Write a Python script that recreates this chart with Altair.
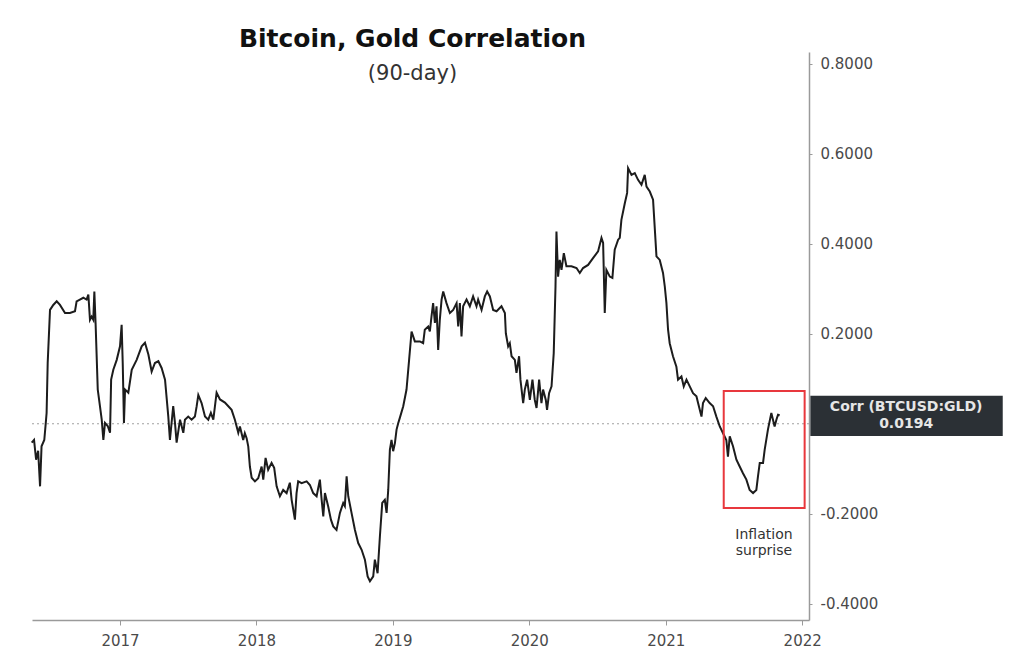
import altair as alt
import pandas as pd

# ---- series (decimal year, 90-day correlation) ----
years_a = [
    2016.353, 2016.370, 2016.385, 2016.400, 2016.414, 2016.425, 2016.445, 2016.456, 2016.462, 2016.470,
    2016.487, 2016.511, 2016.536, 2016.560, 2016.597, 2016.633, 2016.670, 2016.682, 2016.706, 2016.731,
    2016.755, 2016.768, 2016.780, 2016.792, 2016.804, 2016.812, 2016.821, 2016.837, 2016.847, 2016.866,
    2016.878, 2016.890, 2016.910, 2016.927, 2016.935, 2016.951, 2016.976, 2017.000, 2017.012, 2017.020,
    2017.029, 2017.037, 2017.061, 2017.086, 2017.122, 2017.159, 2017.183, 2017.208, 2017.232, 2017.256,
    2017.281, 2017.305, 2017.330, 2017.354, 2017.366, 2017.390, 2017.403, 2017.415, 2017.440, 2017.464,
    2017.476, 2017.500, 2017.525, 2017.549, 2017.562, 2017.574, 2017.598, 2017.623, 2017.647, 2017.666,
    2017.684, 2017.708, 2017.733, 2017.769, 2017.794, 2017.818,
]
corr_a = [
    -0.042, -0.036, -0.080, -0.060, -0.139, -0.050, -0.036, 0.002, 0.024, 0.135,
    0.253, 0.264, 0.272, 0.264, 0.246, 0.246, 0.250, 0.272, 0.276, 0.280,
    0.276, 0.287, 0.231, 0.238, 0.231, 0.294, 0.224, 0.076, 0.053, 0.009,
    -0.036, 0.002, -0.005, -0.020, 0.098, 0.120, 0.142, 0.172, 0.220, 0.135,
    0.002, 0.076, 0.069, 0.120, 0.142, 0.172, 0.180, 0.154, 0.116, 0.135,
    0.139, 0.124, 0.098, 0.016, -0.036, 0.039, 0.002, -0.042, 0.009, -0.020,
    0.009, 0.016, 0.009, 0.016, 0.039, 0.064, 0.046, 0.016, 0.009, 0.024,
    0.009, 0.069, 0.054, 0.047, 0.039, 0.031,
]
years_b = [
    2017.842, 2017.867, 2017.879, 2017.903, 2017.915, 2017.928, 2017.940, 2017.952, 2017.965, 2017.989,
    2018.013, 2018.038, 2018.050, 2018.067, 2018.086, 2018.111, 2018.130, 2018.148, 2018.172, 2018.196,
    2018.221, 2018.245, 2018.258, 2018.282, 2018.294, 2018.306, 2018.331, 2018.368, 2018.392, 2018.416,
    2018.441, 2018.465, 2018.478, 2018.490, 2018.502, 2018.526, 2018.546, 2018.563, 2018.587, 2018.612,
    2018.636, 2018.648, 2018.661, 2018.673, 2018.697, 2018.722, 2018.746, 2018.771, 2018.795, 2018.815,
    2018.832, 2018.856, 2018.868, 2018.888, 2018.905, 2018.922, 2018.941, 2018.954, 2018.966, 2018.978,
    2018.990, 2019.002, 2019.015, 2019.027, 2019.039,
]
corr_b = [
    0.009, -0.020, -0.006, -0.036, -0.021, -0.032, -0.050, -0.095, -0.120, -0.128,
    -0.121, -0.095, -0.124, -0.076, -0.102, -0.087, -0.098, -0.139, -0.161, -0.147,
    -0.154, -0.131, -0.169, -0.213, -0.154, -0.128, -0.132, -0.128, -0.136, -0.154,
    -0.161, -0.124, -0.169, -0.206, -0.154, -0.184, -0.213, -0.228, -0.236, -0.198,
    -0.176, -0.183, -0.117, -0.161, -0.198, -0.236, -0.265, -0.280, -0.302, -0.339,
    -0.350, -0.339, -0.302, -0.332, -0.250, -0.176, -0.169, -0.198, -0.147, -0.058,
    -0.036, -0.061, -0.043, -0.013, 0.001,
]
years_c = [
    2019.051, 2019.076, 2019.100, 2019.119, 2019.137, 2019.161, 2019.198, 2019.222, 2019.234, 2019.259,
    2019.271, 2019.283, 2019.295, 2019.308, 2019.320, 2019.332, 2019.344, 2019.357, 2019.369, 2019.393,
    2019.418, 2019.442, 2019.467, 2019.479, 2019.491, 2019.503, 2019.515, 2019.540, 2019.564, 2019.588,
    2019.613, 2019.625, 2019.650, 2019.674, 2019.691, 2019.711, 2019.735, 2019.760, 2019.796, 2019.821,
    2019.828, 2019.845, 2019.857, 2019.870, 2019.894, 2019.906, 2019.925, 2019.935, 2019.955, 2019.967,
    2019.984, 2020.004, 2020.023, 2020.040, 2020.053, 2020.072, 2020.089, 2020.101, 2020.121, 2020.130,
    2020.145, 2020.163, 2020.179, 2020.192, 2020.199, 2020.211, 2020.223, 2020.236, 2020.253, 2020.272,
    2020.309, 2020.346, 2020.370, 2020.394, 2020.431, 2020.467, 2020.504, 2020.529, 2020.541, 2020.553,
    2020.565, 2020.590, 2020.609, 2020.626, 2020.651, 2020.663, 2020.675, 2020.700, 2020.717, 2020.724,
    2020.749, 2020.773, 2020.797, 2020.822, 2020.846, 2020.859, 2020.883, 2020.907, 2020.932, 2020.956,
    2020.980, 2020.993, 2021.005, 2021.017, 2021.029,
]
corr_c = [
    0.013, 0.039, 0.076, 0.142, 0.205, 0.183, 0.183, 0.179, 0.209, 0.216,
    0.205, 0.238, 0.268, 0.224, 0.261, 0.164, 0.231, 0.276, 0.294, 0.268,
    0.246, 0.253, 0.268, 0.216, 0.268, 0.194, 0.261, 0.276, 0.261, 0.283,
    0.261, 0.276, 0.253, 0.283, 0.294, 0.283, 0.253, 0.250, 0.261, 0.246,
    0.201, 0.172, 0.179, 0.150, 0.142, 0.113, 0.150, 0.098, 0.046, 0.076,
    0.098, 0.053, 0.098, 0.053, 0.035, 0.098, 0.046, 0.076, 0.053, 0.031,
    0.068, 0.083, 0.157, 0.305, 0.427, 0.327, 0.364, 0.342, 0.379, 0.350,
    0.350, 0.346, 0.335, 0.346, 0.353, 0.368, 0.383, 0.413, 0.402, 0.246,
    0.342, 0.327, 0.324, 0.387, 0.409, 0.413, 0.453, 0.490, 0.513, 0.568,
    0.553, 0.557, 0.542, 0.531, 0.553, 0.527, 0.516, 0.498, 0.372, 0.364,
    0.335, 0.305, 0.268, 0.209, 0.179,
]
years_d = [
    2021.053, 2021.078, 2021.090, 2021.115, 2021.132, 2021.152, 2021.176, 2021.200, 2021.225, 2021.237,
    2021.262, 2021.273, 2021.293, 2021.322, 2021.347, 2021.371, 2021.396, 2021.420, 2021.444, 2021.456,
    2021.469, 2021.493, 2021.518, 2021.542, 2021.566, 2021.591, 2021.615, 2021.640, 2021.664, 2021.676,
    2021.689, 2021.713, 2021.725, 2021.749, 2021.774, 2021.798, 2021.811, 2021.823, 2021.835,
]
corr_d = [
    0.150, 0.127, 0.098, 0.105, 0.083, 0.098, 0.083, 0.068, 0.061, 0.046,
    0.016, 0.046, 0.057, 0.046, 0.039, 0.016, -0.006, -0.021, -0.036, -0.073,
    -0.028, -0.050, -0.080, -0.095, -0.110, -0.124, -0.147, -0.154, -0.147, -0.117,
    -0.087, -0.087, -0.058, -0.013, 0.024, -0.006, 0.009, 0.020, 0.019,
]

year_ticks = [2017, 2018, 2019, 2020, 2021, 2022]
corr_ticks = [-0.4, -0.2, 0.2, 0.4, 0.6, 0.8]

# annotation values (data units)
highlight_years = [2021.425, 2022.018]
highlight_corr = [0.073, -0.187]
note_lines = ["Inflation", "surprise"]
note_year = 2021.72
note_corr = [-0.247, -0.283]
tag_years = [2022.06, 2023.47]
tag_corr = [0.062, -0.027]
tag_lines = ["Corr (BTCUSD:GLD)", "0.0194"]
tag_text_year = 2022.762
tag_text_corr = [0.038, 0.0]

FONT = "DejaVu Sans"

df = pd.DataFrame({
    "year": years_a + years_b + years_c + years_d,
    "corr": corr_a + corr_b + corr_c + corr_d,
})

x_scale = alt.Scale(domain=[2016.355, 2022.05], nice=False, zero=False)
y_scale = alt.Scale(domain=[-0.436, 0.826], nice=False, zero=False)

x_axis = alt.Axis(values=year_ticks, format="d", title=None, grid=False,
                  tickSize=5, labelPadding=8, domainWidth=1.5,
                  labelFontSize=15, labelFont=FONT, labelColor="#4a4a4a",
                  domainColor="#9a9a9a", tickColor="#9a9a9a")
y_axis = alt.Axis(orient="right", values=corr_ticks, title=None, grid=False,
                  labelExpr="replace(format(datum.value, '.4f'), '\u2212', '-')",
                  tickSize=3, labelPadding=8, domainWidth=1.5,
                  labelFontSize=15, labelFont=FONT, labelColor="#4a4a4a",
                  domainColor="#9a9a9a", tickColor="#9a9a9a")

X = alt.X("year:Q", scale=x_scale, axis=x_axis)
Y = alt.Y("corr:Q", scale=y_scale, axis=y_axis)
X2 = alt.X2("year2:Q")
Y2 = alt.Y2("corr2:Q")

zero_rule = alt.Chart(pd.DataFrame({"corr": [0.0]})).mark_rule(
    color="#a0a0a0", strokeDash=[2, 3], strokeWidth=1
).encode(y=Y)

line = alt.Chart(df).mark_line(color="#1c1c1c", strokeWidth=2).encode(x=X, y=Y)

highlight = alt.Chart(pd.DataFrame({
    "year": [highlight_years[0]], "year2": [highlight_years[1]],
    "corr": [highlight_corr[0]], "corr2": [highlight_corr[1]],
})).mark_rect(fillOpacity=0, stroke="#e8383d", strokeWidth=2).encode(x=X, x2=X2, y=Y, y2=Y2)

note = alt.Chart(pd.DataFrame({
    "year": [note_year] * len(note_lines), "corr": note_corr, "t": note_lines,
})).mark_text(font=FONT, fontSize=14, color="#333333", align="center", baseline="middle").encode(
    x=X, y=Y, text="t:N",
)

tag_box = alt.Chart(pd.DataFrame({
    "year": [tag_years[0]], "year2": [tag_years[1]],
    "corr": [tag_corr[0]], "corr2": [tag_corr[1]],
})).mark_rect(color="#2b3035").encode(x=X, x2=X2, y=Y, y2=Y2)

tag_text = alt.Chart(pd.DataFrame({
    "year": [tag_text_year] * len(tag_lines), "corr": tag_text_corr, "t": tag_lines,
})).mark_text(font=FONT, fontSize=14, fontWeight="bold", color="#e6e6e6",
              align="center", baseline="middle").encode(
    x=X, y=Y, text="t:N",
)

chart = alt.layer(zero_rule, line, highlight, note, tag_box, tag_text).properties(
    width=777,
    height=568,
    background="white",
    padding={"left": 24, "top": 44, "right": 200, "bottom": 40},
    autosize=alt.AutoSizeParams(type="none"),
    title=alt.TitleParams(
        text="Bitcoin, Gold Correlation",
        subtitle="(90-day)",
        anchor="middle",
        dx=-8,
        offset=-32,
        font=FONT, fontSize=25, fontWeight="bold", color="#111111",
        subtitleFont=FONT, subtitleFontSize=21, subtitleColor="#333333",
        subtitlePadding=11,
    ),
).configure_view(stroke=None)

chart.save("out.html", embed_options={"renderer": "svg", "actions": False})
